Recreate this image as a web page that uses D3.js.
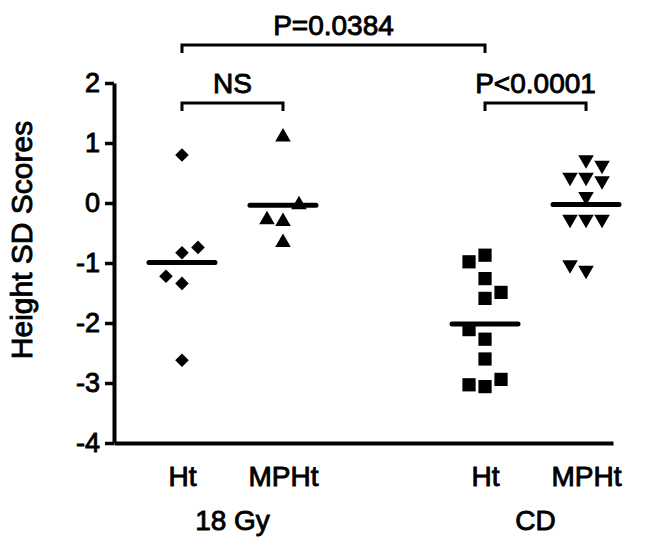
<!DOCTYPE html>
<html>
<head>
<meta charset="utf-8">
<script src="https://cdn.jsdelivr.net/npm/d3@7"></script>
<style>
  body { margin: 0; background: #fff; }
  svg text { font-family: "Liberation Sans", Arial, sans-serif; fill: #000; stroke: #000; stroke-width: 0.9px; }
</style>
</head>
<body>
<svg id="chart" width="652" height="541"></svg>
<script>
// height SD scores
const gy18Ht = [0.80, -0.74, -0.83, -1.22, -1.34, -2.62];
const gy18MPHt = [1.10, -0.03, -0.28, -0.31, -0.66];
const cdHt = [-0.87, -0.98, -1.26, -1.49, -1.59, -2.11, -2.27, -2.60, -2.94, -3.03, -3.06];
const cdMPHt = [0.72, 0.63, 0.43, 0.43, 0.37, 0.11, -0.27, -0.27, -0.27, -1.03, -1.12];

const columnLabels = ["Ht", "MPHt", "Ht", "MPHt"];
const columnPos = [1, 2, 4, 5];
const groupLabels = ["18 Gy", "CD"];
const yTicks = [2, 1, 0, -1, -2, -3, -4];

// pairs of column indices + the p value printed above
const comparisons = [[0, 1], [2, 3], [0, 2]];
const comparisonLabels = ["NS", "P<0.0001", "P=0.0384"];

const columns = [gy18Ht, gy18MPHt, cdHt, cdMPHt];
const shapes = [
  { type: d3.symbolSquare, size: 92, rotate: 45 },
  { type: d3.symbolTriangle, size: 105, rotate: 0 },
  { type: d3.symbolSquare, size: 175, rotate: 0 },
  { type: d3.symbolTriangle, size: 105, rotate: 180 },
];

const svg = d3.select("#chart");
const x = d3.scaleLinear().domain([0.327, 5.267]).range([114, 613]);
const y = d3.scaleLinear().domain([-4, 2]).range([443, 83]);

// simple column scatter: points that sit close in value share a row
// and get pushed out to alternating sides
function spread(values, rowSpan) {
  const pts = values.map(v => ({ v })).sort((a, b) => a.v - b.v);
  let side = -1, rowStart = null, inRow = 0;
  pts.forEach(p => {
    if (rowStart === null || p.v - rowStart > rowSpan || inRow === 3) {
      rowStart = p.v;
      inRow = 0;
    }
    p.slot = inRow === 0 ? 0 : side;
    if (inRow > 0) side = -side;
    inRow++;
  });
  return pts;
}

// y axis
const yAxis = svg.append("g")
  .attr("transform", `translate(${x.range()[0]},0)`)
  .call(d3.axisLeft(y).tickValues(yTicks).tickFormat(d => String(d))
    .tickSize(9).tickSizeOuter(0).tickPadding(5));
yAxis.select(".domain").attr("stroke-width", 4);
yAxis.selectAll(".tick line").attr("stroke-width", 3.5);
yAxis.selectAll(".tick text").attr("font-size", 27).attr("font-family", null);

svg.append("text")
  .attr("transform", "translate(32,240) rotate(-90)")
  .attr("text-anchor", "middle")
  .attr("font-size", 30)
  .text("Height SD Scores");

// x axis
const xAxis = svg.append("g")
  .attr("transform", `translate(0,${y(-4)})`)
  .call(d3.axisBottom(x).tickValues(columnPos).tickFormat((d, i) => columnLabels[i])
    .tickSize(0).tickSizeOuter(0).tickPadding(23));
xAxis.select(".domain").attr("stroke-width", 4);
xAxis.selectAll(".tick text").attr("font-size", 28).attr("font-family", null);

svg.selectAll(".group-label")
  .data(groupLabels)
  .join("text")
  .attr("class", "group-label")
  .attr("x", (d, i) => x((columnPos[i * 2] + columnPos[i * 2 + 1]) / 2))
  .attr("y", 530)
  .attr("text-anchor", "middle")
  .attr("font-size", 28)
  .text(d => d);

// points
const slotWidth = 16;
columns.forEach((vals, ci) => {
  const s = shapes[ci];
  const sym = d3.symbol().type(s.type).size(s.size);
  svg.append("g").selectAll("path")
    .data(spread(vals, 0.3))
    .join("path")
    .attr("d", sym)
    .attr("transform", d => `translate(${x(columnPos[ci]) + d.slot * slotWidth},${y(d.v)}) rotate(${s.rotate})`)
    .attr("fill", "#000");

  // mean bar
  const m = d3.mean(vals);
  svg.append("line")
    .attr("x1", x(columnPos[ci]) - 33)
    .attr("x2", x(columnPos[ci]) + 33)
    .attr("y1", y(m))
    .attr("y2", y(m))
    .attr("stroke", "#000")
    .attr("stroke-width", 5)
    .attr("stroke-linecap", "round");
});

// significance brackets
const bracketTick = 8;
comparisons.forEach(([a, b], i) => {
  const level = b - a > 1 ? 1 : 0;
  const by = level ? 45 : 103;
  const x0 = x(columnPos[a]), x1 = x(columnPos[b]);
  svg.append("path")
    .attr("d", `M${x0},${by + bracketTick}V${by}H${x1}V${by + bracketTick}`)
    .attr("fill", "none")
    .attr("stroke", "#000")
    .attr("stroke-width", 3);
  svg.append("text")
    .attr("x", (x0 + x1) / 2)
    .attr("y", by - 10)
    .attr("text-anchor", "middle")
    .attr("font-size", 28)
    .text(comparisonLabels[i]);
});
</script>
</body>
</html>
